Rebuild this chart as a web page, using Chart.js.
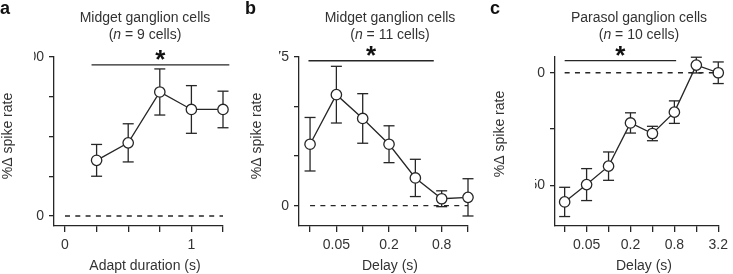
<!DOCTYPE html>
<html lang="en">
<head>
  <meta charset="UTF-8" />
  <title>Spike rate change</title>
  <script src="https://cdn.jsdelivr.net/npm/chart.js"></script>
  <style>
    body { margin: 0; background: #fff; }
    .painel { position: absolute; top: 0; }
  </style>
</head>
<body>
  <canvas id="grafico_a" class="painel" style="left:0px" width="245" height="274"></canvas>
  <canvas id="grafico_b" class="painel" style="left:245px" width="245" height="274"></canvas>
  <canvas id="grafico_c" class="painel" style="left:490px" width="243" height="274"></canvas>

  <script>
    // panel a - adapt duration
    const durationA = [0.25, 0.5, 0.75, 1, 1.25];
    const meanA = [35, 46, 78, 67, 67];
    const errA = [10, 12, 14.5, 15, 11.5];
    const xTicksA = [0, 0.25, 0.5, 0.75, 1, 1.25];
    const xLabelsA = ['0', '', '', '', '1', ''];
    const yTicksA = [0, 25, 50, 75, 100];
    const yLabelsA = ['0', '', '', '', '100'];
    const sigA = [0.21, 1.3];
    const sigLevelA = 95;

    // panel b - delay, midget (x = position on log2 delay axis)
    const delayB = [0, 1, 2, 3, 4, 5, 6];
    const meanB = [31, 56, 44, 31, 14, 3.5, 4.2];
    const errB = [13.5, 14.3, 12.5, 9.3, 9.4, 4, 9.4];
    const xTicksB = [0, 1, 2, 3, 4, 5, 6];
    const xLabelsB = ['', '0.05', '', '0.2', '', '0.8', ''];
    const yTicksB = [0, 25, 50, 75];
    const yLabelsB = ['0', '', '', '75'];
    const sigB = [-0.06, 4.7];
    const sigLevelB = 73.1;

    // panel c - delay, parasol
    const delayC = [0, 1, 2, 3, 4, 5, 6, 7];
    const meanC = [-57.4, -49.7, -41.5, -22.3, -27, -17.5, 3.4, 0];
    const errC = [6.5, 7.1, 6.3, 4.5, 3.2, 5, 3.5, 4.8];
    const xTicksC = [0, 1, 2, 3, 4, 5, 6, 7];
    const xLabelsC = ['', '0.05', '', '0.2', '', '0.8', '', '3.2'];
    const yTicksC = [-50, -25, 0];
    const yLabelsC = ['\u201350', '', '0'];
    const sigC = [0, 5.08];
    const sigLevelC = 5.35;

    const cor = '#262626';
    const corTexto = '#333';
    const fonte = '"Liberation Sans", Arial, sans-serif';

    const paineis = {
      grafico_a: {
        xs: durationA, mean: meanA, err: errA,
        xTicks: xTicksA, xLabels: xLabelsA, yTicks: yTicksA, yLabels: yLabelsA,
        sig: sigA, sigLevel: sigLevelA,
        xMin: -0.087, xMax: 1.25, yMin: -6.3, yMax: 100,
        padding: { left: 34, right: 22, top: 57, bottom: 18 },
        title: 'Midget ganglion cells', n: 9, titleX: 145,
        xTitle: 'Adapt duration (s)', xTitleX: 145,
        yTitleX: 8, yTitleY: 136, letra: 'a'
      },
      grafico_b: {
        xs: delayB, mean: meanB, err: errB,
        xTicks: xTicksB, xLabels: xLabelsB, yTicks: yTicksB, yLabels: yLabelsB,
        sig: sigB, sigLevel: sigLevelB,
        xMin: -0.42, xMax: 6, yMin: -10.25, yMax: 75,
        padding: { left: 34, right: 22, top: 57, bottom: 18 },
        title: 'Midget ganglion cells', n: 11, titleX: 145,
        xTitle: 'Delay (s)', xTitleX: 145,
        yTitleX: 12, yTitleY: 136, letra: 'b'
      },
      grafico_c: {
        xs: delayC, mean: meanC, err: errC,
        xTicks: xTicksC, xLabels: xLabelsC, yTicks: yTicksC, yLabels: yLabelsC,
        sig: sigC, sigLevel: sigLevelC,
        xMin: -0.44, xMax: 7, yMin: -68.1, yMax: 7,
        padding: { left: 45, right: 10, top: 57, bottom: 18 },
        title: 'Parasol ganglion cells', n: 10, titleX: 149,
        xTitle: 'Delay (s)', xTitleX: 154,
        yTitleX: 10, yTitleY: 134, letra: 'c'
      }
    };

    function linha(ctx, x1, y1, x2, y2) {
      ctx.beginPath();
      ctx.moveTo(x1, y1);
      ctx.lineTo(x2, y2);
      ctx.stroke();
    }

    const textosPlugin = {
      id: 'textos',
      // barras de erro, antes dos pontos
      beforeDatasetsDraw(chart) {
        const p = paineis[chart.canvas.id];
        const x = chart.scales.x, y = chart.scales.y;
        const ctx = chart.ctx;
        ctx.save();
        ctx.setLineDash([]);
        ctx.strokeStyle = cor;
        ctx.lineWidth = 1.3;
        p.xs.forEach((v, i) => {
          const px = x.getPixelForValue(v);
          const top = y.getPixelForValue(p.mean[i] + p.err[i]);
          const bot = y.getPixelForValue(p.mean[i] - p.err[i]);
          linha(ctx, px, top, px, bot);
          linha(ctx, px - 5.5, top, px + 5.5, top);
          linha(ctx, px - 5.5, bot, px + 5.5, bot);
        });
        ctx.restore();
      },
      afterDraw(chart) {
        const p = paineis[chart.canvas.id];
        const x = chart.scales.x, y = chart.scales.y;
        const ctx = chart.ctx;
        ctx.save();
        ctx.fillStyle = corTexto;
        ctx.font = '14px ' + fonte;
        ctx.textAlign = 'center';
        ctx.textBaseline = 'alphabetic';
        ctx.fillText(p.xTitle, p.xTitleX, 270);

        // titulo
        ctx.fillText(p.title, p.titleX, 22);
        const parts = ['(', 'n', ' = ' + p.n + ' cells)'];
        const fontes = ['14px ' + fonte, 'italic 14px ' + fonte, '14px ' + fonte];
        let total = 0;
        const larg = parts.map((t, i) => { ctx.font = fontes[i]; const m = ctx.measureText(t).width; total += m; return m; });
        let cx = p.titleX - total / 2;
        ctx.textAlign = 'left';
        parts.forEach((t, i) => { ctx.font = fontes[i]; ctx.fillText(t, cx, 39); cx += larg[i]; });

        // rotulo y
        ctx.font = '14px ' + fonte;
        ctx.save();
        ctx.translate(p.yTitleX, p.yTitleY);
        ctx.rotate(-Math.PI / 2);
        ctx.textAlign = 'center';
        ctx.textBaseline = 'middle';
        ctx.fillText('%\u0394 spike rate', 0, 0);
        ctx.restore();

        // letra do painel
        ctx.font = 'bold 18px ' + fonte;
        ctx.fillStyle = '#111';
        ctx.textAlign = 'left';
        ctx.fillText(p.letra, 0, 14);

        // estrela de significancia, centrada 9.5px acima da barra
        ctx.font = 'bold 26px ' + fonte;
        ctx.textAlign = 'center';
        const m = ctx.measureText('*');
        const cy = y.getPixelForValue(p.sigLevel) - 9.5;
        ctx.fillText('*', x.getPixelForValue((p.sig[0] + p.sig[1]) / 2),
          cy + (m.actualBoundingBoxAscent - m.actualBoundingBoxDescent) / 2);
        ctx.restore();
      }
    };

    function criaPainel(id) {
      const p = paineis[id];
      const pontos = p.xs.map((v, i) => ({ x: v, y: p.mean[i] }));
      const eixo = (valores, rotulos, tamanho, lado) => ({
        type: 'linear',
        display: true,
        afterBuildTicks: scale => { scale.ticks = valores.map(v => ({ value: v })); },
        afterFit: scale => { scale[lado] = tamanho; },
        grid: {
          display: true, drawOnChartArea: false, drawTicks: true,
          tickLength: 5, color: cor, tickColor: cor, lineWidth: 1.3, tickWidth: 1.3
        },
        border: { display: true, color: cor, width: 1.3 },
        ticks: {
          autoSkip: false, maxRotation: 0, padding: 5, color: corTexto,
          font: { family: fonte, size: 14 },
          callback: (v, i) => rotulos[i]
        }
      });
      const eixoX = eixo(p.xTicks, p.xLabels, 30, 'height');
      eixoX.min = p.xMin; eixoX.max = p.xMax;
      eixoX.grid.tickLength = 6;
      const eixoY = eixo(p.yTicks, p.yLabels, 20, 'width');
      eixoY.min = p.yMin; eixoY.max = p.yMax;

      return new Chart(document.getElementById(id), {
        type: 'line',
        data: {
          datasets: [
            {
              data: [{ x: p.xTicks[0], y: 0 }, { x: p.xTicks[p.xTicks.length - 1], y: 0 }],
              borderColor: cor, borderWidth: 1.3, borderDash: [5, 5.3],
              pointRadius: 0, clip: false
            },
            {
              data: [{ x: p.sig[0], y: p.sigLevel }, { x: p.sig[1], y: p.sigLevel }],
              borderColor: cor, borderWidth: 1.3, pointRadius: 0, clip: false
            },
            {
              data: pontos,
              borderColor: cor, borderWidth: 1.3,
              pointRadius: 5.2, pointBackgroundColor: '#fff',
              pointBorderColor: cor, pointBorderWidth: 1.3, clip: false
            }
          ]
        },
        options: {
          responsive: false,
          animation: false,
          layout: { padding: p.padding },
          plugins: { legend: { display: false }, tooltip: { enabled: false } },
          scales: { x: eixoX, y: eixoY }
        },
        plugins: [textosPlugin]
      });
    }

    criaPainel('grafico_a');
    criaPainel('grafico_b');
    criaPainel('grafico_c');
  </script>
</body>
</html>
